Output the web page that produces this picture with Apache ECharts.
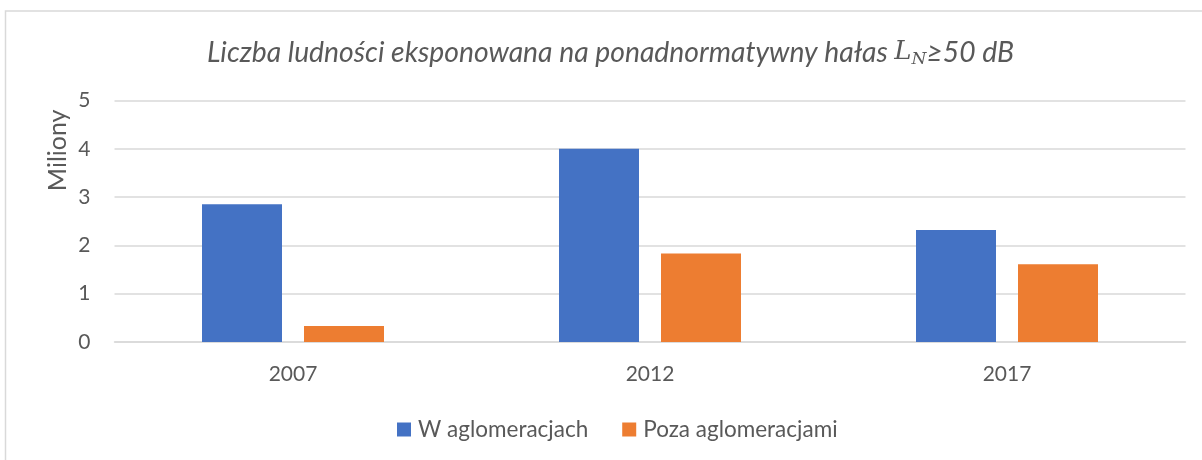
<!DOCTYPE html>
<html>
<head>
<meta charset="utf-8">
<script src="https://cdn.jsdelivr.net/npm/echarts@6/dist/echarts.min.js"></script>
<style>
  html, body { margin: 0; padding: 0; background: #fff; }
  #chart { width: 1202px; height: 460px; }
</style>
</head>
<body>
<div id="chart"></div>
<script>
// Population exposed to noise above limits (millions)
const years = ['2007', '2012', '2017'];
const inAgglomerations = [2.85, 4.0, 2.32];
const outsideAgglomerations = [0.33, 1.83, 1.61];
const seriesNames = ['W aglomeracjach', 'Poza aglomeracjami'];
const yTicks = { min: 0, max: 5, interval: 1 };

const FONT = 'Lato, "Open Sans", sans-serif';
const TEXT = '#595959';
const GRID_LINE = '#d9d9d9';

const chart = echarts.init(document.getElementById('chart'), null, { renderer: 'canvas' });

chart.setOption({
  backgroundColor: '#ffffff',
  animation: false,
  textStyle: { fontFamily: FONT, color: TEXT },
  graphic: [{
    // outer chart frame
    type: 'rect',
    shape: { x: 5.5, y: 11, width: 1260, height: 520 },
    style: { fill: 'none', stroke: GRID_LINE, lineWidth: 1.5 },
    silent: true
  }],
  title: {
    text: 'Liczba ludności eksponowana na ponadnormatywny hałas {l|L}{n|N}≥50 dB',
    left: 202,
    top: 32,
    padding: 5,
    textStyle: {
      fontFamily: FONT,
      fontStyle: 'italic',
      fontWeight: 'normal',
      fontSize: 28.3,
      color: TEXT,
      rich: {
        l: { fontFamily: '"DejaVu Serif", serif', fontStyle: 'italic', fontSize: 26, color: TEXT },
        n: { fontFamily: '"DejaVu Serif", serif', fontStyle: 'italic', fontSize: 17, color: TEXT, verticalAlign: 'bottom', padding: [14, 0, 0, 0] }
      }
    }
  },
  legend: {
    data: seriesNames,
    left: 392,
    top: 413,
    padding: 5,
    itemWidth: 14,
    itemHeight: 14,
    itemGap: 34,
    icon: 'rect',
    textStyle: { fontFamily: FONT, fontSize: 22.5, color: TEXT, padding: [0, 0, 0, 2] }
  },
  grid: { left: 114.5, right: 16.5, top: 100.5, bottom: 118 },
  xAxis: {
    type: 'category',
    data: years,
    axisLine: { show: true, lineStyle: { color: GRID_LINE, width: 1.5 } },
    axisTick: { show: false },
    axisLabel: { fontFamily: FONT, fontSize: 21, color: TEXT, margin: 22 }
  },
  yAxis: {
    type: 'value',
    min: yTicks.min,
    max: yTicks.max,
    interval: yTicks.interval,
    name: 'Miliony',
    nameLocation: 'end',
    nameRotate: 90,
    nameGap: -9,
    nameTextStyle: { fontFamily: FONT, fontSize: 25, color: TEXT, align: 'right', verticalAlign: 'bottom', padding: [0, 0, 44, 0] },
    axisLine: { show: false },
    axisTick: { show: false },
    axisLabel: { fontFamily: FONT, fontSize: 21, color: TEXT, margin: 24 },
    splitLine: { lineStyle: { color: GRID_LINE, width: 1.5 } }
  },
  series: [
    {
      name: seriesNames[0],
      type: 'bar',
      data: inAgglomerations,
      barWidth: 80,
      barGap: '27.5%',
      itemStyle: { color: '#4472C4' }
    },
    {
      name: seriesNames[1],
      type: 'bar',
      data: outsideAgglomerations,
      barWidth: 80,
      barGap: '27.5%',
      itemStyle: { color: '#ED7D31' }
    }
  ]
});
</script>
</body>
</html>
